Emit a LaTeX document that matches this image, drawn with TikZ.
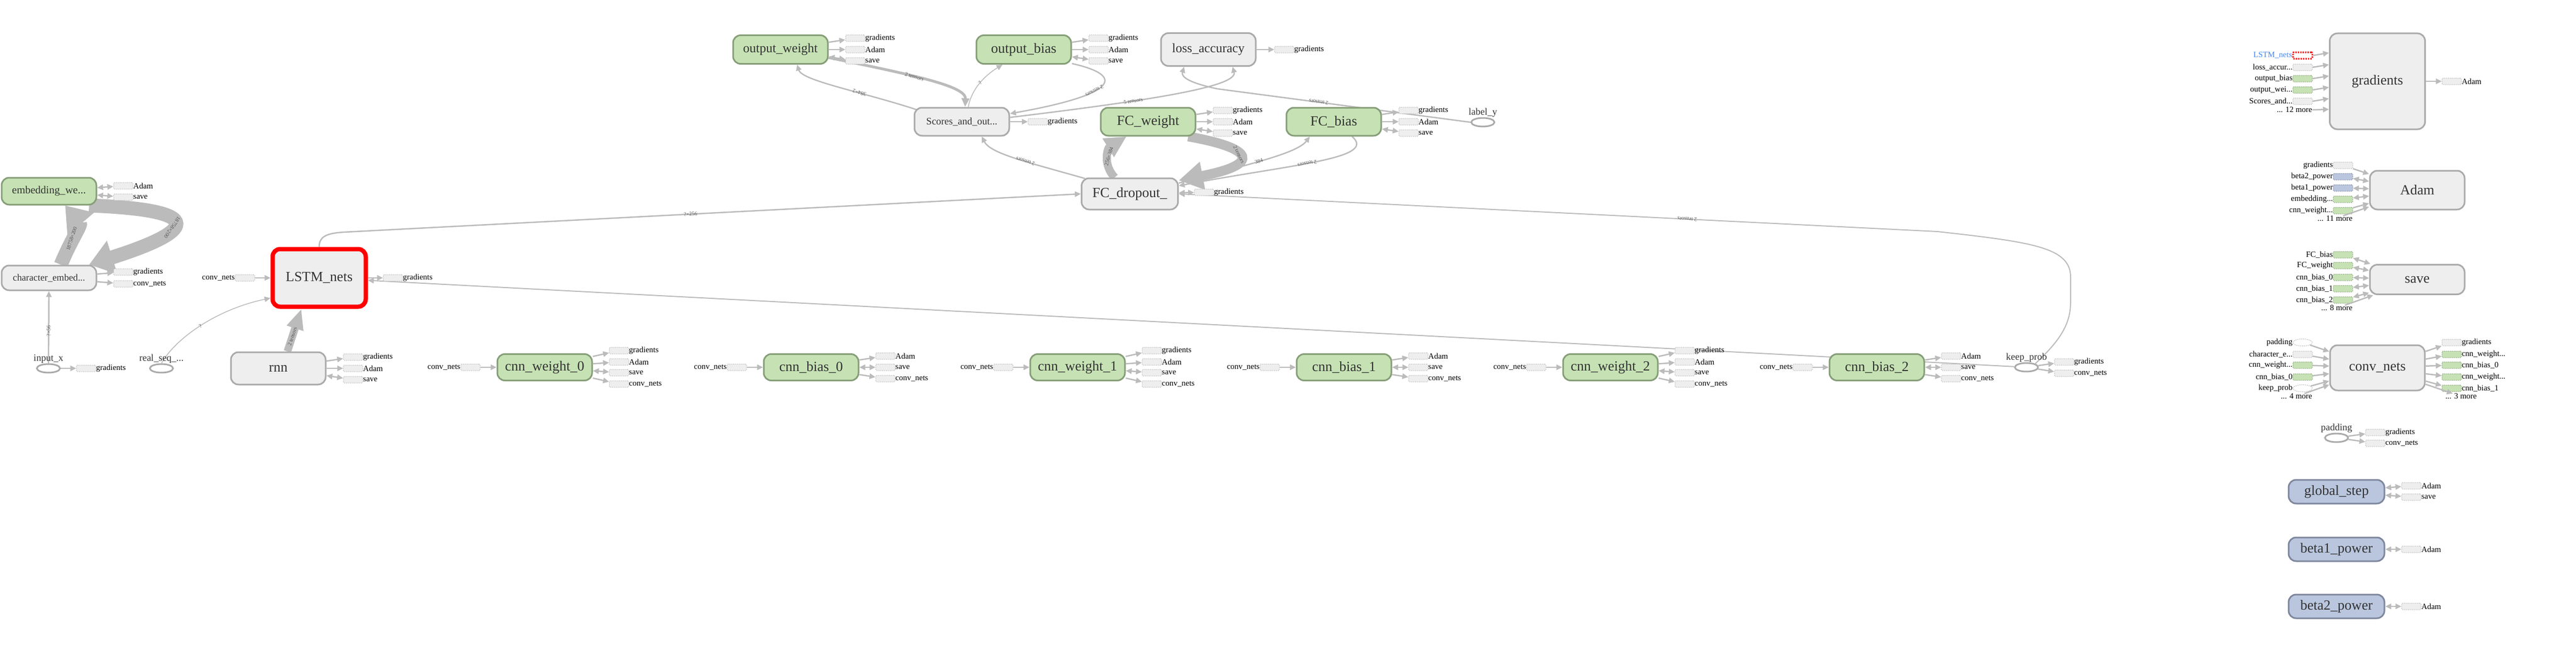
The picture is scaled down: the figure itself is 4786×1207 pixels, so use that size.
\documentclass[tikz,border=0pt]{standalone}
\usepackage{fontspec}
\setmainfont{Liberation Serif}
\usepackage{tikz}
\usetikzlibrary{positioning,calc,backgrounds}
\usetikzlibrary{arrows.meta}
\usetikzlibrary{shapes}
\definecolor{varfill}{RGB}{198,226,180}
\definecolor{vardraw}{RGB}{134,158,120}
\definecolor{opfill}{RGB}{238,238,238}
\definecolor{opdraw}{RGB}{170,170,170}
\definecolor{constfill}{RGB}{185,198,222}
\definecolor{constdraw}{RGB}{126,135,156}
\definecolor{edgegrey}{RGB}{187,187,187}
\definecolor{stubdraw}{RGB}{185,185,185}
\definecolor{labelgrey}{RGB}{85,85,85}
\definecolor{nodetext}{RGB}{51,51,51}
\definecolor{linkblue}{RGB}{66,133,244}
\tikzset{
        graphnode/.style={rectangle, rounded corners=14pt, inner sep=0pt, align=center, line width=3pt, text=nodetext, font=\fontsize{26}{28}\selectfont, minimum width=176pt, minimum height=49pt},
        % Variables
        node_var/.style={graphnode, fill=varfill, draw=vardraw},
        % Operations
        node_op/.style={graphnode, fill=opfill, draw=opdraw},
        % Constants
        node_const/.style={graphnode, fill=constfill, draw=constdraw, minimum width=178pt, minimum height=44pt},
        % Placeholders
        node_ph/.style={ellipse, draw=opdraw, line width=3pt, fill=white, minimum width=43pt, minimum height=16pt, inner sep=0pt, label distance=3pt},
        ph_text/.style={font=\fontsize{18}{18}\selectfont, text=nodetext, inner sep=0pt},
        % Small stubs
        stub/.style={rectangle, rounded corners=2pt, draw=stubdraw, fill=opfill, line width=1pt, dash pattern=on 2pt off 1.5pt, minimum width=36pt, minimum height=12pt, inner sep=0pt, label distance=6pt},
        stub_var/.style={stub, fill=varfill, draw=vardraw},
        stub_const/.style={stub, fill=constfill, draw=constdraw},
        stub_ph/.style={stub, ellipse, fill=white, minimum height=13pt},
        stub_hot/.style={stub, fill=white, draw=red, line width=3pt, dash pattern=on 2.5pt off 2pt},
        stub_text/.style={font=\fontsize{15}{15}\selectfont, text=black, inner sep=0pt},
        % Edges
        edge/.style={draw=edgegrey, line width=2.5pt},
        tip_in/.style={->},
        tip_ref/.style={<->},
        edge_label/.style={font=\fontsize{10}{10}\selectfont, text=labelgrey, sloped, allow upside down, inner sep=1pt}
}

\begin{document}
\begin{tikzpicture}[x=1pt, y=-1pt, >={Triangle[length=11pt,width=10pt]}]
\useasboundingbox (0,0) rectangle (4786,1207);

% Embedding and inputs
\node[node_var, font=\fontsize{20}{22}\selectfont, minimum height=50pt] (emb) at (91,355) {embedding\_we...};
\node[node_op, font=\fontsize{17.7}{20}\selectfont, minimum height=46pt] (chemb) at (91,516) {character\_embed...};
\node[node_ph, label={[ph_text]above:input\_x}] (inputx) at (90,684) {};
\node[node_ph, label={[ph_text]above:real\_seq\_...}] (realseq) at (300,684) {};
\node[node_op, draw=red, line width=8pt, minimum width=173pt, minimum height=107pt] (lstm) at (593,516) {LSTM\_nets};
\node[node_op, minimum height=60pt] (rnn) at (517,684) {rnn};

% Convolution variables
\node[node_var] (cnnw0) at (1012,682) {cnn\_weight\_0};
\node[node_var] (cnnb0) at (1507,682) {cnn\_bias\_0};
\node[node_var] (cnnw1) at (2002,682) {cnn\_weight\_1};
\node[node_var] (cnnb1) at (2497,682) {cnn\_bias\_1};
\node[node_var] (cnnw2) at (2992,682) {cnn\_weight\_2};
\node[node_var] (cnnb2) at (3487,682) {cnn\_bias\_2};
\node[node_ph, label={[ph_text]above:keep\_prob}] (keepprob) at (3765,682) {};

% Output layers
\node[node_var, font=\fontsize{24}{26}\selectfont, minimum height=53pt] (ow) at (1450,92) {output\_weight};
\node[node_var, minimum height=53pt] (ob) at (1902,92) {output\_bias};
\node[node_op, font=\fontsize{24}{26}\selectfont, minimum height=61pt] (loss) at (2245,92) {loss\_accuracy};
\node[node_op, font=\fontsize{18.5}{20}\selectfont, minimum height=52pt] (scores) at (1787,226) {Scores\_and\_out...};
\node[node_var, minimum height=52pt] (fcw) at (2133,226) {FC\_weight};
\node[node_var, minimum height=52pt] (fcb) at (2478,226) {FC\_bias};
\node[node_ph, label={[ph_text]above:label\_y}] (labely) at (2755,227) {};
\node[node_op, minimum width=179pt, minimum height=58pt] (fcd) at (2099,360) {FC\_dropout\_};

% Auxiliary nodes
\node[node_op, minimum width=177pt, minimum height=178pt] (grad) at (4417,151) {gradients};
\node[node_op, minimum height=72pt] (adam) at (4491,353) {Adam};
\node[node_op, minimum height=55pt] (save) at (4491,519) {save};
\node[node_op, minimum height=84pt] (conv) at (4417,683) {conv\_nets};
\node[node_ph, label={[ph_text]above:padding}] (padding) at (4341,813) {};
\node[node_const] (gstep) at (4341,913) {global\_step};
\node[node_const] (beta1) at (4341,1020) {beta1\_power};
\node[node_const] (beta2) at (4341,1126) {beta2\_power};

% Stubs of the left part
\foreach \lbl/\dy/\tp [count=\m] in {Adam/-10/tip_ref, save/11/tip_ref}{
    \node[stub, label={[stub_text]right:\lbl}] (embs\m) at ($(emb)+(138,\dy)$) {};
    \draw[edge,\tp] (emb) -- (embs\m);
}
\foreach \lbl/\dy [count=\m] in {gradients/-11, conv\_nets/11}{
    \node[stub, label={[stub_text]right:\lbl}] (chembs\m) at ($(chemb)+(138,\dy)$) {};
    \draw[edge,->] (chemb) -- (chembs\m);
}
\node[stub, label={[stub_text]right:gradients}] (inputxs) at ($(inputx)+(70,0)$) {};
\draw[edge,->] (inputx) -- (inputxs);
\node[stub, label={[stub_text]left:conv\_nets}] (lstmin) at ($(lstm)+(-138,0)$) {};
\draw[edge,->] (lstmin) -- (lstm);
\node[stub, label={[stub_text]right:gradients}] (lstmout) at ($(lstm)+(137,0)$) {};
\draw[edge,->] (lstm) -- (lstmout);

% Stubs with gradients, Adam and save
\foreach \n in {ow,ob,fcw,fcb,rnn}{
    \foreach \lbl/\dy/\tp [count=\m] in {gradients/-21/tip_in, Adam/0/tip_in, save/21/tip_ref}{
        \node[stub, label={[stub_text]right:\lbl}] (\n s\m) at ($(\n)+(139,\dy)$) {};
        \draw[edge,\tp] (\n) -- (\n s\m);
    }
}
\node[stub, label={[stub_text]right:gradients}] (losss) at ($(loss)+(141,0)$) {};
\draw[edge,->] (loss) -- (losss);
\node[stub, label={[stub_text]right:gradients}] (scoress) at ($(scores)+(141,0)$) {};
\draw[edge,->] (scores) -- (scoress);
\node[stub, label={[stub_text]right:gradients}] (fcds) at ($(fcd)+(138,-3)$) {};
\draw[edge,<->] (fcd) -- (fcds);

% Stubs of the convolution variables
\foreach \n in {cnnw0,cnnw1,cnnw2}{
    \node[stub, label={[stub_text]left:conv\_nets}] (\n i) at ($(\n)+(-138,0)$) {};
    \draw[edge,->] (\n i) -- (\n);
    \foreach \lbl/\dy/\tp [count=\m] in {gradients/-31/tip_in, Adam/-10/tip_in, save/10/tip_ref, conv\_nets/31/tip_in}{
        \node[stub, label={[stub_text]right:\lbl}] (\n s\m) at ($(\n)+(138,\dy)$) {};
        \draw[edge,\tp] (\n) -- (\n s\m);
    }
}
\foreach \n in {cnnb0,cnnb1,cnnb2}{
    \node[stub, label={[stub_text]left:conv\_nets}] (\n i) at ($(\n)+(-138,0)$) {};
    \draw[edge,->] (\n i) -- (\n);
    \foreach \lbl/\dy/\tp [count=\m] in {Adam/-21/tip_in, save/0/tip_ref, conv\_nets/21/tip_in}{
        \node[stub, label={[stub_text]right:\lbl}] (\n s\m) at ($(\n)+(138,\dy)$) {};
        \draw[edge,\tp] (\n) -- (\n s\m);
    }
}
\foreach \lbl/\dy [count=\m] in {gradients/-10, conv\_nets/11}{
    \node[stub, label={[stub_text]right:\lbl}] (keepprobs\m) at ($(keepprob)+(70,\dy)$) {};
    \draw[edge,->] (keepprob) -- (keepprobs\m);
}

% Inputs and outputs of gradients
\node[stub_hot, label={[stub_text, text=linkblue]left:LSTM\_nets}] (gin1) at ($(grad)+(-139,-48)$) {};
\draw[edge,->] (gin1.east) -- ($(gin1.east -| grad.west)+(0,-5)$);
\foreach \lbl/\st/\dy [count=\m from 2] in {loss\_accur{...}/stub/-26, output\_bias/stub_var/-5, output\_wei{...}/stub_var/16, Scores\_and{...}/stub/37}{
    \node[\st, label={[stub_text]left:\lbl}] (gin\m) at ($(grad)+(-139,\dy)$) {};
    \draw[edge,->] (gin\m.east) -- ($(gin\m.east -| grad.west)+(0,-5)$);
}
\node[stub_text, anchor=east] (ginmore) at ($(grad)+(-121,53)$) {... 12 more};
\draw[edge,->] (ginmore.east) -- ($(ginmore.east -| grad.west)+(0,-1)$);
\node[stub, label={[stub_text]right:Adam}] (gout) at ($(grad)+(138,0)$) {};
\draw[edge,->] (grad) -- (gout);

% Inputs of Adam
\foreach \lbl/\st/\dy/\tp [count=\m] in {gradients/stub/-46/tip_in, beta2\_power/stub_const/-25/tip_ref, beta1\_power/stub_const/-4/tip_ref, embedding{...}/stub_var/17/tip_ref, cnn\_weight{...}/stub_var/38/tip_in}{
    \node[\st, label={[stub_text]left:\lbl}] (ain\m) at ($(adam)+(-138,\dy)$) {};
    \draw[edge,\tp] (ain\m) -- (adam);
}
\node[stub_text, anchor=east] (ainmore) at ($(adam)+(-120,53)$) {... 11 more};
\draw[edge,->] (ainmore) -- (adam);

% Inputs of save
\foreach \lbl/\dy [count=\m] in {FC\_bias/-46, FC\_weight/-26, cnn\_bias\_0/-4, cnn\_bias\_1/17, cnn\_bias\_2/38}{
    \node[stub_var, label={[stub_text]left:\lbl}] (sin\m) at ($(save)+(-138,\dy)$) {};
    \draw[edge,<->] (sin\m) -- (save);
}
\node[stub_text, anchor=east] (sinmore) at ($(save)+(-120,53)$) {... 8 more};
\draw[edge,->] (sinmore) -- (save);

% Inputs and outputs of conv_nets
\foreach \lbl/\st/\dy [count=\m] in {padding/stub_ph/-47, character\_e{...}/stub/-25, cnn\_weight{...}/stub_var/-5, cnn\_bias\_0/stub_var/17, keep\_prob/stub_ph/38}{
    \node[\st, label={[stub_text]left:\lbl}] (cin\m) at ($(conv)+(-139,\dy)$) {};
    \draw[edge,->] (cin\m) -- (conv);
}
\node[stub_text, anchor=east] (cinmore) at ($(conv)+(-121,53)$) {... 4 more};
\draw[edge,->] (cinmore) -- (conv);
\foreach \lbl/\st/\dy [count=\m] in {gradients/stub/-47, cnn\_weight{...}/stub_var/-25, cnn\_bias\_0/stub_var/-5, cnn\_weight{...}/stub_var/17, cnn\_bias\_1/stub_var/38}{
    \node[\st, label={[stub_text]right:\lbl}] (cout\m) at ($(conv)+(138,\dy)$) {};
    \draw[edge,->] (conv) -- (cout\m);
}
\node[stub_text, anchor=west] (coutmore) at ($(conv)+(126,53)$) {... 3 more};
\draw[edge,->] (conv) -- (coutmore);

% Stubs of padding and the constants
\foreach \lbl/\dy [count=\m] in {gradients/-10, conv\_nets/10}{
    \node[stub, label={[stub_text]right:\lbl}] (pads\m) at ($(padding)+(72,\dy)$) {};
    \draw[edge,->] (padding) -- (pads\m);
}
\foreach \lbl/\dy [count=\m] in {Adam/-11, save/10}{
    \node[stub, label={[stub_text]right:\lbl}] (gsteps\m) at ($(gstep)+(139,\dy)$) {};
    \draw[edge,<->] (gstep) -- (gsteps\m);
}
\node[stub, label={[stub_text]right:Adam}] (beta1s) at ($(beta1)+(139,0)$) {};
\draw[edge,<->] (beta1) -- (beta1s);
\node[stub, label={[stub_text]right:Adam}] (beta2s) at ($(beta2)+(139,0)$) {};
\draw[edge,<->] (beta2) -- (beta2s);

% Data flow
\begin{scope}[on background layer]
\draw[edge, line width=26pt, -{Triangle[length=45pt,width=62pt]}] ($(chemb.north)+(22,0)$) .. controls (132,445) and (152,418) .. node[edge_label, pos=0.4] {18758×200} ($(emb.south)+(30,0)$);
\draw[edge, line width=26pt, -{Triangle[length=45pt,width=62pt]}] ($(emb.south east)+(-15,0)$) .. controls (390,390) and (360,430) .. node[edge_label, pos=0.55] {18758×200} ($(chemb.north east)+(-15,0)$);
\draw[edge, ->] (inputx) -- node[edge_label, pos=0.45] {?×56} (chemb);
\draw[edge, line width=1.5pt, ->] (realseq.north) .. controls (325,630) and (400,575) .. node[edge_label, pos=0.5] {?} ($(lstm.south west)+(0,-20)$);
\draw[edge, line width=14pt, -{Triangle[length=38pt,width=30pt]}] ($(rnn.north)+(17,0)$) -- node[edge_label, pos=0.35] {2 tensors} ($(lstm.south)+(-33,0)$);
\draw[edge, ->] (lstm.north) .. controls (593,440) and (605,433) .. (640,431) -- node[edge_label, pos=0.47] {?×256} (fcd.west);
\draw[edge, line width=2pt, ->] (keepprob) -- (lstm);
\draw[edge, line width=2pt, ->] (keepprob.north east) .. controls (3830,630) and (3847,600) .. (3847,560) -- (3847,515) .. controls (3847,460) and (3780,450) .. (3600,430) -- node[edge_label, pos=0.33] {2 tensors} (fcd.east);
\draw[edge, ->] ($(fcd.north west)+(8,2)$) .. controls (1905,300) and (1840,285) .. node[edge_label, pos=0.4] {2 tensors} ($(scores.south)+(37,0)$);
\draw[edge, line width=15pt, -{Triangle[length=40pt,width=38pt]}] ($(fcd.north)+(-28,0)$) .. controls (2048,305) and (2058,275) .. node[edge_label, pos=0.5] {256×384} ($(fcw.south)+(-40,0)$);
\draw[edge, line width=18pt, -{Triangle[length=45pt,width=50pt]}] ($(fcw.south east)+(-15,0)$) .. controls (2330,275) and (2345,305) .. node[edge_label, pos=0.45] {2 tensors} ($(fcd.east)+(0,-25)$);
\draw[edge, ->] ($(fcd.east)+(0,-20)$) .. controls (2320,305) and (2410,285) .. node[edge_label, pos=0.45] {384} ($(fcb.south west)+(45,0)$);
\draw[edge, ->] ($(fcb.south)+(34,0)$) .. controls (2560,295) and (2400,305) .. node[edge_label, pos=0.55] {2 tensors} ($(fcd.east)+(0,-15)$);
\draw[edge, ->] ($(scores.north west)+(5,5)$) .. controls (1600,170) and (1490,150) .. node[edge_label, pos=0.35] {384×2} ($(ow.south)+(31,0)$);
\draw[edge, line width=5pt, -{Triangle[length=16pt,width=14pt]}] ($(ow.east)+(0,15)$) .. controls (1700,140) and (1795,160) .. node[edge_label, pos=0.4] {2 tensors} ($(scores.north)+(6,0)$);
\draw[edge, line width=1.5pt, ->] ($(scores.north)+(12,0)$) .. controls (1805,165) and (1830,140) .. node[edge_label, pos=0.5] {?} ($(ob.south west)+(50,0)$);
\draw[edge, ->] ($(ob.south east)+(0,-2)$) .. controls (2090,140) and (2080,175) .. node[edge_label, pos=0.6] {2 tensors} ($(scores.east)+(0,-15)$);
\draw[edge, ->] ($(scores.east)+(0,-8)$) .. controls (2150,185) and (2300,160) .. node[edge_label, pos=0.33] {5 tensors} ($(loss.south)+(45,0)$);
\draw[edge, ->] (labely.west) -- node[edge_label, pos=0.6] {2 tensors} (2262,165) .. controls (2200,152) and (2195,140) .. ($(loss.south)+(-45,0)$);
\end{scope}
\end{tikzpicture}
\end{document}
